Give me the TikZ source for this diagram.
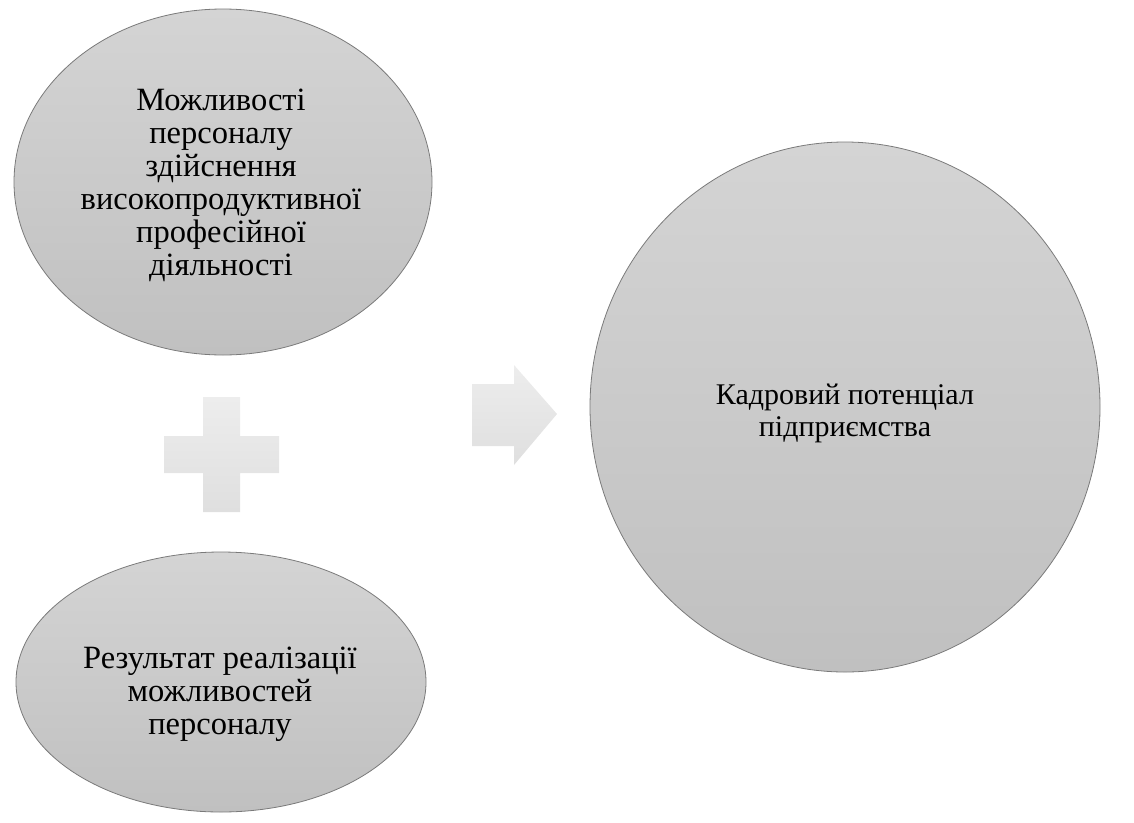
\documentclass[tikz,border=0pt]{standalone}
\usepackage{fontspec}
\setmainfont{Liberation Serif}
\usetikzlibrary{shapes.geometric}
\definecolor{ovtop}{HTML}{D4D4D4}
\definecolor{ovbot}{HTML}{C0C0C0}
\definecolor{ovline}{HTML}{7A7A7A}
\definecolor{sgtop}{HTML}{EDEDED}
\definecolor{sgbot}{HTML}{DFDFDF}
\tikzset{
  oval/.style={ellipse, draw=ovline, line width=0.8pt, top color=ovtop, bottom color=ovbot, inner sep=0pt},
  txt/.style={align=center, font=\fontsize{32.5}{33}\selectfont, text=black, inner sep=0pt},
  bigtxt/.style={txt, font=\fontsize{30}{32}\selectfont},
  sign/.style={top color=sgtop, bottom color=sgbot, draw=none}
}
\begin{document}
\begin{tikzpicture}[x=1pt,y=-1pt]
\useasboundingbox (0,0) rectangle (1134,822);
% ovals
\node[oval, minimum width=418pt, minimum height=346pt] (top) at (223,182) {};
\node[txt] (toptxt) at (221,185) {Можливості\\персоналу\\здійснення\\високопродуктивної\\професійної\\діяльності};
\node[oval, minimum width=410pt, minimum height=260pt] (bot) at (221,682) {};
\node[txt] (bottxt) at (220,694) {Результат реалізації\\можливостей\\персоналу};
\node[oval, minimum width=510pt, minimum height=530pt] (res) at (845,407) {};
\node[bigtxt] (restxt) at (845,413) {Кадровий потенціал\\підприємства};
% plus sign
\path[sign] (203,397) -- (240,397) -- (240,436) -- (279,436) -- (279,473) -- (240,473)
  -- (240,512) -- (203,512) -- (203,473) -- (164,473) -- (164,436) -- (203,436) -- cycle;
% arrow
\path[sign] (472,384) -- (514,384) -- (514,365) -- (557,414) -- (514,465) -- (514,446) -- (472,446) -- cycle;
\end{tikzpicture}
\end{document}
